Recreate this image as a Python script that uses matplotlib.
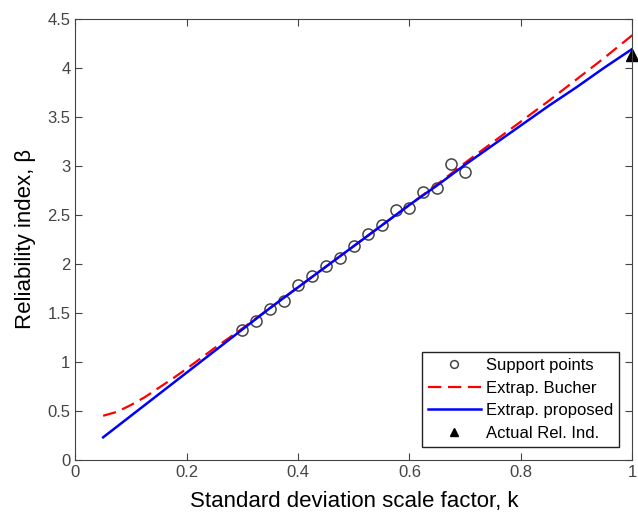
import numpy as np
import matplotlib
matplotlib.use("Agg")
import matplotlib.pyplot as plt

plt.rcParams['font.family'] = ['Liberation Sans', 'DejaVu Sans']

# support points
k_sup = [0.3, 0.325, 0.35, 0.375, 0.4, 0.425, 0.45, 0.475, 0.5, 0.525,
         0.55, 0.575, 0.6, 0.625, 0.65, 0.675, 0.7]
b_sup = [1.32, 1.42, 1.54, 1.62, 1.78, 1.88, 1.98, 2.06, 2.18, 2.30,
         2.40, 2.55, 2.57, 2.73, 2.77, 3.02, 2.94]

# extrapolation (Bucher)
k_buch = [0.05, 0.075, 0.10, 0.125, 0.15, 0.175, 0.20, 0.25, 0.30, 0.35, 0.40,
          0.45, 0.50, 0.55, 0.60, 0.65, 0.70, 0.75, 0.80, 0.85, 0.90, 0.95, 1.00]
b_buch = [0.45, 0.49, 0.56, 0.64, 0.735, 0.83, 0.93, 1.14, 1.34, 1.55, 1.76,
          1.97, 2.18, 2.39, 2.60, 2.81, 3.03, 3.24, 3.45, 3.66, 3.88, 4.10, 4.33]

# extrapolation (proposed)
k_prop = [0.05, 0.10, 0.15, 0.20, 0.25, 0.30, 0.35, 0.40, 0.45, 0.50,
          0.55, 0.60, 0.65, 0.70, 0.75, 0.80, 0.85, 0.90, 0.95, 1.00]
b_prop = [0.23, 0.45, 0.67, 0.89, 1.11, 1.33, 1.55, 1.76, 1.97, 2.18,
          2.39, 2.60, 2.80, 3.01, 3.21, 3.41, 3.61, 3.80, 4.00, 4.19]

# actual reliability index
k_act = [1.0]
b_act = [4.13]

fig = plt.figure(figsize=(6.38, 5.15), dpi=100)
ax = fig.add_axes([0.118, 0.107, 0.873, 0.857])

ax.plot(k_sup, b_sup, 'o', mfc='none', mec='#444444', ms=8, mew=1.1, label='Support points')
ax.plot(k_buch, b_buch, '--', color='red', lw=1.6, dashes=(6, 3), label='Extrap. Bucher')
ax.plot(k_prop, b_prop, '-', color='blue', lw=1.8, label='Extrap. proposed')
ax.plot(k_act, b_act, '^', color='black', ms=8, clip_on=False, label='Actual Rel. Ind.')

ax.set_xlim(0, 1)
ax.set_ylim(0, 4.5)
ax.set_xticks([0, 0.2, 0.4, 0.6, 0.8, 1])
ax.set_xticklabels(['0', '0.2', '0.4', '0.6', '0.8', '1'])
ax.set_yticks(np.arange(0, 4.51, 0.5))
ax.set_yticklabels(['0', '0.5', '1', '1.5', '2', '2.5', '3', '3.5', '4', '4.5'])
ax.tick_params(direction='in', top=True, right=True, length=5, labelsize=12,
               labelcolor='#444444', color='#444444')
for s in ax.spines.values():
    s.set_color('#444444')

ax.set_xlabel('Standard deviation scale factor, k', fontsize=16, labelpad=8)
ax.set_ylabel('Reliability index, \u03b2', fontsize=16, labelpad=8)

leg = ax.legend(loc='lower right', fontsize=12, fancybox=False, edgecolor='#222222',
                borderaxespad=0.8, handlelength=3.2, labelspacing=0.45, framealpha=1,
                markerscale=0.7, borderpad=0.35, handletextpad=0.3)
leg.get_frame().set_linewidth(1.0)

fig.savefig('out.png', dpi=100)
